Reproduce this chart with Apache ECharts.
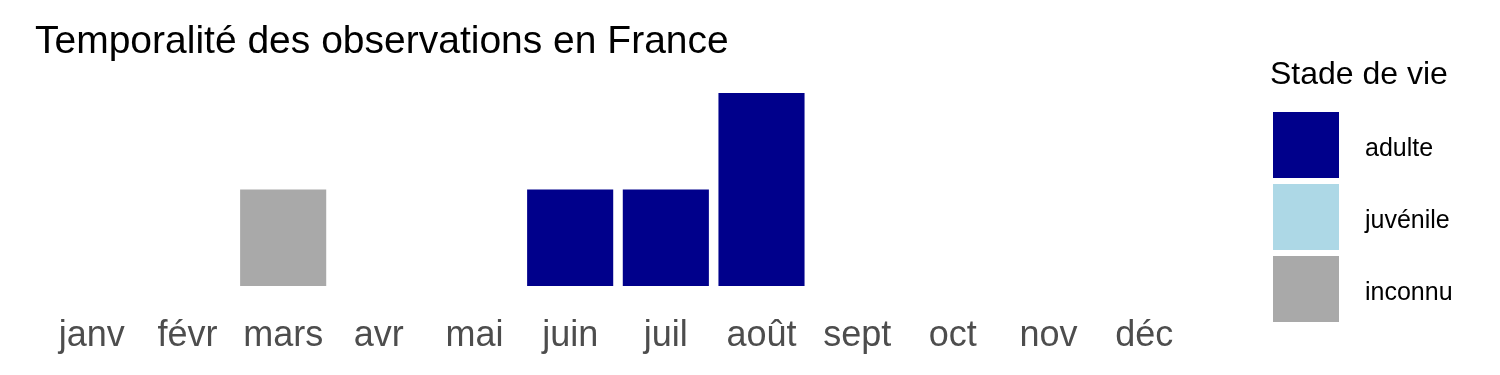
<!DOCTYPE html>
<html>
<head>
<meta charset="utf-8">
<script src="https://cdn.jsdelivr.net/npm/echarts@6/dist/echarts.min.js"></script>
<style>html,body{margin:0;padding:0;background:#fff;}#c{width:1500px;height:375px;}</style>
</head>
<body>
<div id="c"></div>
<script>
const months = ['janv','févr','mars','avr','mai','juin','juil','août','sept','oct','nov','déc'];
const adulte   = [0,0,0,0,0,1,1,2,0,0,0,0];
const juvenile = [0,0,0,0,0,0,0,0,0,0,0,0];
const inconnu  = [0,0,1,0,0,0,0,0,0,0,0,0];
const seriesNames = ['adulte','juvénile','inconnu'];
const seriesColors = ['#00008B','#ADD8E6','#A9A9A9'];
const seriesData = [adulte, juvenile, inconnu];

const FONT = 'Liberation Sans, Arial, sans-serif';
const chart = echarts.init(document.getElementById('c'), null, {renderer:'canvas'});
chart.setOption({
  animation: false,
  backgroundColor: '#ffffff',
  title: [
    {text: 'Temporalité des observations en France', left: 30, top: 18,
     textStyle: {fontFamily: FONT, fontSize: 39, fontWeight: 'normal', color: '#000'}},
    {text: 'Stade de vie', left: 1265, top: 54,
     textStyle: {fontFamily: FONT, fontSize: 32, fontWeight: 'normal', color: '#000'}}
  ],
  legend: {
    orient: 'vertical', left: 1268, top: 107,
    itemWidth: 66, itemHeight: 66, itemGap: 6,
    icon: 'rect',
    data: seriesNames,
    formatter: '{a|{name}}',
    textStyle: {fontFamily: FONT, fontSize: 25, color: '#000', padding: [0,0,0,21],
      rich: {a: {fontFamily: FONT, fontSize: 25, color: '#000', padding: [8,0,0,0]}}}
  },
  grid: {left: 44, right: 308, top: 93, bottom: 89, containLabel: false},
  xAxis: {
    type: 'category', data: months,
    axisLine: {show: false}, axisTick: {show: false},
    axisLabel: {fontFamily: FONT, fontSize: 36, color: '#4D4D4D', margin: 32, interval: 0}
  },
  yAxis: {type: 'value', min: 0, max: 2, show: false, splitLine: {show: false}},
  series: seriesNames.map((n, i) => ({
    name: n, type: 'bar', stack: 'total', data: seriesData[i],
    barCategoryGap: '10%',
    itemStyle: {color: seriesColors[i]}
  }))
});
</script>
</body>
</html>
